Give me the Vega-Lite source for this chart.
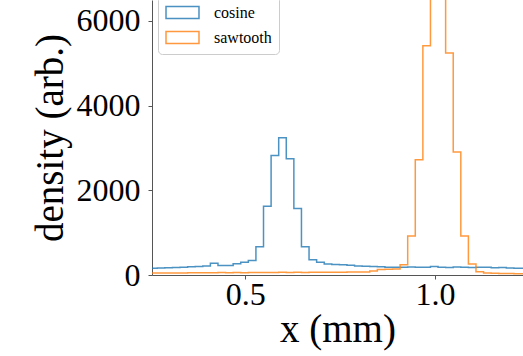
{
  "$schema": "https://vega.github.io/schema/vega-lite/v6.json",
  "autosize": "none",
  "padding": {"left": 152, "top": 0, "right": 0, "bottom": 81},
  "width": 371,
  "height": 275,
  "config": {
    "font": "Liberation Serif",
    "view": {"stroke": null},
    "axis": {"grid": false, "domainColor": "#555555", "tickColor": "#555555", "labelColor": "#000000", "titleColor": "#000000", "labelFont": "Liberation Serif", "titleFont": "Liberation Serif", "titleFontWeight": "normal"}
  },
  "data": {"values": [
    {"x": 0.248, "y": 160, "s": "cosine"},
    {"x": 0.268, "y": 165, "s": "cosine"},
    {"x": 0.288, "y": 170, "s": "cosine"},
    {"x": 0.308, "y": 175, "s": "cosine"},
    {"x": 0.328, "y": 185, "s": "cosine"},
    {"x": 0.348, "y": 195, "s": "cosine"},
    {"x": 0.368, "y": 200, "s": "cosine"},
    {"x": 0.388, "y": 210, "s": "cosine"},
    {"x": 0.408, "y": 275, "s": "cosine"},
    {"x": 0.428, "y": 225, "s": "cosine"},
    {"x": 0.448, "y": 225, "s": "cosine"},
    {"x": 0.468, "y": 265, "s": "cosine"},
    {"x": 0.488, "y": 300, "s": "cosine"},
    {"x": 0.508, "y": 340, "s": "cosine"},
    {"x": 0.528, "y": 666, "s": "cosine"},
    {"x": 0.548, "y": 1620, "s": "cosine"},
    {"x": 0.568, "y": 2820, "s": "cosine"},
    {"x": 0.588, "y": 3240, "s": "cosine"},
    {"x": 0.608, "y": 2745, "s": "cosine"},
    {"x": 0.628, "y": 1570, "s": "cosine"},
    {"x": 0.648, "y": 666, "s": "cosine"},
    {"x": 0.668, "y": 360, "s": "cosine"},
    {"x": 0.688, "y": 300, "s": "cosine"},
    {"x": 0.708, "y": 260, "s": "cosine"},
    {"x": 0.728, "y": 250, "s": "cosine"},
    {"x": 0.748, "y": 240, "s": "cosine"},
    {"x": 0.768, "y": 230, "s": "cosine"},
    {"x": 0.788, "y": 215, "s": "cosine"},
    {"x": 0.808, "y": 205, "s": "cosine"},
    {"x": 0.828, "y": 200, "s": "cosine"},
    {"x": 0.848, "y": 195, "s": "cosine"},
    {"x": 0.868, "y": 185, "s": "cosine"},
    {"x": 0.888, "y": 182, "s": "cosine"},
    {"x": 0.908, "y": 185, "s": "cosine"},
    {"x": 0.928, "y": 190, "s": "cosine"},
    {"x": 0.948, "y": 180, "s": "cosine"},
    {"x": 0.968, "y": 185, "s": "cosine"},
    {"x": 0.988, "y": 200, "s": "cosine"},
    {"x": 1.008, "y": 180, "s": "cosine"},
    {"x": 1.028, "y": 175, "s": "cosine"},
    {"x": 1.048, "y": 190, "s": "cosine"},
    {"x": 1.068, "y": 185, "s": "cosine"},
    {"x": 1.088, "y": 175, "s": "cosine"},
    {"x": 1.108, "y": 180, "s": "cosine"},
    {"x": 1.128, "y": 185, "s": "cosine"},
    {"x": 1.148, "y": 170, "s": "cosine"},
    {"x": 1.168, "y": 175, "s": "cosine"},
    {"x": 1.188, "y": 165, "s": "cosine"},
    {"x": 1.208, "y": 160, "s": "cosine"},
    {"x": 1.228, "y": 158, "s": "cosine"},
    {"x": 1.248, "y": 158, "s": "cosine"},
    {"x": 0.248, "y": 45, "s": "sawtooth"},
    {"x": 0.268, "y": 45, "s": "sawtooth"},
    {"x": 0.288, "y": 48, "s": "sawtooth"},
    {"x": 0.308, "y": 50, "s": "sawtooth"},
    {"x": 0.328, "y": 50, "s": "sawtooth"},
    {"x": 0.348, "y": 52, "s": "sawtooth"},
    {"x": 0.368, "y": 52, "s": "sawtooth"},
    {"x": 0.388, "y": 55, "s": "sawtooth"},
    {"x": 0.408, "y": 55, "s": "sawtooth"},
    {"x": 0.428, "y": 58, "s": "sawtooth"},
    {"x": 0.448, "y": 55, "s": "sawtooth"},
    {"x": 0.468, "y": 58, "s": "sawtooth"},
    {"x": 0.488, "y": 55, "s": "sawtooth"},
    {"x": 0.508, "y": 58, "s": "sawtooth"},
    {"x": 0.528, "y": 60, "s": "sawtooth"},
    {"x": 0.548, "y": 60, "s": "sawtooth"},
    {"x": 0.568, "y": 60, "s": "sawtooth"},
    {"x": 0.588, "y": 62, "s": "sawtooth"},
    {"x": 0.608, "y": 60, "s": "sawtooth"},
    {"x": 0.628, "y": 62, "s": "sawtooth"},
    {"x": 0.648, "y": 60, "s": "sawtooth"},
    {"x": 0.668, "y": 62, "s": "sawtooth"},
    {"x": 0.688, "y": 65, "s": "sawtooth"},
    {"x": 0.708, "y": 62, "s": "sawtooth"},
    {"x": 0.728, "y": 65, "s": "sawtooth"},
    {"x": 0.748, "y": 65, "s": "sawtooth"},
    {"x": 0.768, "y": 68, "s": "sawtooth"},
    {"x": 0.788, "y": 70, "s": "sawtooth"},
    {"x": 0.808, "y": 70, "s": "sawtooth"},
    {"x": 0.828, "y": 95, "s": "sawtooth"},
    {"x": 0.848, "y": 130, "s": "sawtooth"},
    {"x": 0.868, "y": 135, "s": "sawtooth"},
    {"x": 0.888, "y": 140, "s": "sawtooth"},
    {"x": 0.908, "y": 240, "s": "sawtooth"},
    {"x": 0.928, "y": 918, "s": "sawtooth"},
    {"x": 0.948, "y": 2722, "s": "sawtooth"},
    {"x": 0.968, "y": 5412, "s": "sawtooth"},
    {"x": 0.988, "y": 7500, "s": "sawtooth"},
    {"x": 1.008, "y": 7300, "s": "sawtooth"},
    {"x": 1.028, "y": 5240, "s": "sawtooth"},
    {"x": 1.048, "y": 2901, "s": "sawtooth"},
    {"x": 1.068, "y": 918, "s": "sawtooth"},
    {"x": 1.088, "y": 259, "s": "sawtooth"},
    {"x": 1.108, "y": 78, "s": "sawtooth"},
    {"x": 1.128, "y": 45, "s": "sawtooth"},
    {"x": 1.148, "y": 40, "s": "sawtooth"},
    {"x": 1.168, "y": 35, "s": "sawtooth"},
    {"x": 1.188, "y": 35, "s": "sawtooth"},
    {"x": 1.208, "y": 30, "s": "sawtooth"},
    {"x": 1.228, "y": 30, "s": "sawtooth"},
    {"x": 1.248, "y": 30, "s": "sawtooth"}
  ]},
  "mark": {"type": "line", "interpolate": "step-after", "strokeWidth": 1.5, "clip": true, "opacity": 0.8},
  "encoding": {
    "x": {"field": "x", "type": "quantitative",
      "scale": {"domain": [0.2541, 1.2319], "nice": false, "zero": false},
      "axis": {"values": [0.5, 1.0], "format": ".1f", "title": "x (mm)", "labelFontSize": 32, "titleFontSize": 39, "tickSize": 4, "labelPadding": 0, "titlePadding": 0}},
    "y": {"field": "y", "type": "quantitative",
      "scale": {"domain": [0, 6490], "nice": false},
      "axis": {"values": [0, 2000, 4000, 6000], "format": "d", "title": "density (arb.)", "labelFontSize": 32, "titleFontSize": 39, "tickSize": 4, "labelPadding": 8, "titlePadding": 6}},
    "color": {"field": "s", "type": "nominal",
      "scale": {"domain": ["cosine", "sawtooth"], "range": ["#1f77b4", "#ff7f0e"]},
      "legend": {"orient": "none", "legendX": 6, "legendY": -4, "title": null, "padding": 7, "fillColor": "white", "strokeColor": "#cccccc", "cornerRadius": 4, "labelFontSize": 16, "labelFont": "Liberation Serif", "labelColor": "#000000", "symbolType": "M-1.94,-0.7H1.94V0.7H-1.94Z", "symbolSize": 289, "symbolOffset": 8, "symbolStrokeWidth": 1.5, "symbolOpacity": 0.8, "labelOffset": 22, "rowPadding": 6}}
  }
}
